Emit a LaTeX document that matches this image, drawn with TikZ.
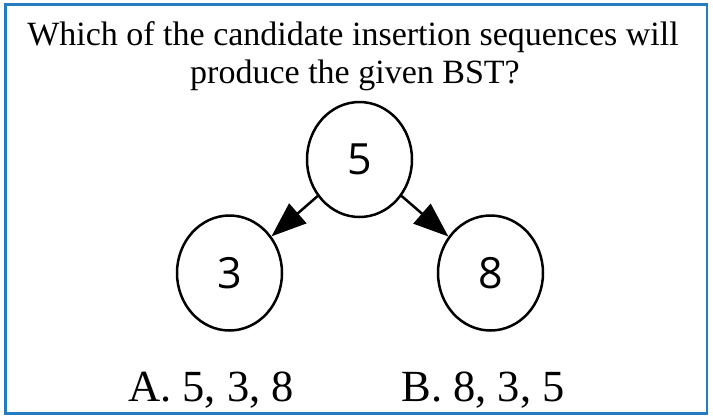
\documentclass[tikz,border=0pt]{standalone}
\usepackage{fontspec}
\setmainfont{Liberation Serif}
\newfontfamily\nodefont{Open Sans}
\usetikzlibrary{shapes.geometric,arrows.meta}
\definecolor{frameblue}{RGB}{38,124,192}
\tikzset{
  bstnode/.style={ellipse,draw,line width=2.5pt,minimum width=105pt,minimum height=115pt,inner sep=0pt,font=\nodefont\fontsize{43}{43}\selectfont},
  bstedge/.style={line width=2.5pt,-{Triangle[length=35pt,width=26pt]}},
  titletext/.style={anchor=base,font=\fontsize{34}{34}\selectfont},
  answertext/.style={anchor=base,font=\fontsize{44.5}{44.5}\selectfont}
}
\begin{document}
\begin{tikzpicture}[x=1pt,y=-1pt]
\useasboundingbox (0,0) rectangle (713,416);
\fill[white] (0,0) rectangle (713,416);
\draw[frameblue,line width=2.6pt] (5.5,4.5) rectangle (707,413.5);
\node[titletext] (t1) at (353,45) {Which of the candidate insertion sequences will};
\node[titletext] (t2) at (355,83) {produce the given BST?};
\node[bstnode] (n5) at (359.5,159.5) {5};
\node[bstnode] (n3) at (229.5,273) {3};
\node[bstnode] (n8) at (490.5,273) {8};
\draw[bstedge] (n5) -- (n3);
\draw[bstedge] (n5) -- (n8);
\node[answertext] (a) at (211,401.5) {A. 5, 3, 8};
\node[answertext] (b) at (483,401.5) {B. 8, 3, 5};
\end{tikzpicture}
\end{document}
